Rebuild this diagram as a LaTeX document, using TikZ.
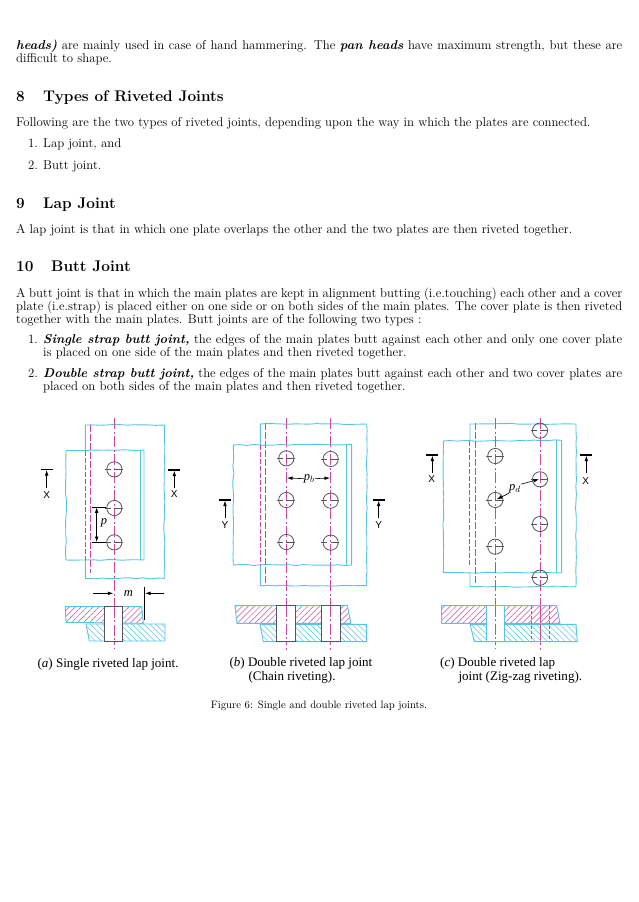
\documentclass[tikz,border=0pt]{standalone}
\usepackage{fontspec}
\newfontfamily\capfont{Liberation Serif}
\newfontfamily\markfont{Liberation Sans}
\usetikzlibrary{arrows.meta, decorations.pathmorphing, patterns.meta}
\definecolor{platecyan}{HTML}{58C4E4}
\definecolor{linepink}{HTML}{C94A9E}
\definecolor{rivetgrey}{HTML}{55555F}
\tikzset{
  para/.style={anchor=north west,inner sep=0pt,align=justify,text width=#1,
    font=\fontsize{12.78}{13}\selectfont,
    execute at begin node={\leavevmode\rule{0pt}{10pt}}},
  para/.default=606pt,
  heading/.style={anchor=base west,inner sep=0pt,font=\fontsize{15.4}{18}\selectfont\bfseries},
  caption/.style={anchor=base west,inner sep=0pt,font=\capfont\fontsize{13.05}{15}\selectfont},
  wavy/.style={decoration={random steps,segment length=7pt,amplitude=.5pt}},
  plate/.style={platecyan,line width=.9pt,line join=round},
  hiddenedge/.style={linepink,line width=.9pt,dash pattern=on 7pt off 2pt},
  centreline/.style={linepink,line width=.8pt,dash pattern=on 11pt off 2.5pt on 2pt off 2.5pt},
  rivetline/.style={rivetgrey,line width=.8pt},
  dimline/.style={black,line width=.5pt},
  dimarrow/.style={black,line width=.6pt,>={Latex[length=5.5pt,width=3.6pt]}},
  cutbar/.style={black,line width=1.2pt},
  pinkhatch/.style={plate,pattern={Lines[angle=45,distance=4.2pt,line width=.5pt]},pattern color=linepink},
  bluehatch/.style={plate,pattern={Lines[angle=-45,distance=4.2pt,line width=.5pt]},pattern color=platecyan},
  zoomed/.style={x=1pt/3,y=-1pt/3},
  marktext/.style={inner sep=0pt,font=\markfont\fontsize{10}{12}\selectfont},
  dimtext/.style={inner sep=0pt,font=\capfont\itshape\fontsize{12.5}{14}\selectfont}
}
\pgfmathsetseed{7}
\begin{document}
\begin{tikzpicture}[x=1pt,y=-1pt]
    \useasboundingbox (0,0) rectangle (638,902);
    % page text
    \node [para] (headsend) at (16,39.5) {{\bfseries\itshape heads)} are mainly used in case of hand hammering. The {\bfseries\itshape pan heads} have maximum strength, but these are difficult to shape.};
    \node [heading] (secA) at (16,101) {8};
    \node [heading] (secAt) at (43,101) {Types of Riveted Joints};
    \node [para] (types) at (16,116) {Following are the two types of riveted joints, depending upon the way in which the plates are connected.};
    \node [para=20pt] (typeA) at (28,137) {1.};
    \node [para=300pt] (typeAt) at (43,137) {Lap joint, and};
    \node [para=20pt] (typeB) at (28,159) {2.};
    \node [para=300pt] (typeBt) at (43,159) {Butt joint.};
    \node [heading] (secB) at (16,208) {9};
    \node [heading] (secBt) at (43,208) {Lap Joint};
    \node [para] (lap) at (16,223) {A lap joint is that in which one plate overlaps the other and the two plates are then riveted together.};
    \node [heading] (secC) at (16,271) {10};
    \node [heading] (secCt) at (51,271) {Butt Joint};
    \node [para] (butt) at (16,287) {A butt joint is that in which the main plates are kept in alignment butting (i.e.touching) each other and a cover plate (i.e.strap) is placed either on one side or on both sides of the main plates. The cover plate is then riveted together with the main plates. Butt joints are of the following two types :};
    \node [para=20pt] (buttA) at (28,333) {1.};
    \node [para=579pt] (buttAt) at (43,333) {{\bfseries\itshape Single strap butt joint,} the edges of the main plates butt against each other and only one cover plate is placed on one side of the main plates and then riveted together.};
    \node [para=20pt] (buttB) at (28,367) {2.};
    \node [para=579pt] (buttBt) at (43,367) {{\bfseries\itshape Double strap butt joint,} the edges of the main plates butt against each other and two cover plates are placed on both sides of the main plates and then riveted together.};
    \node [inner sep=0pt,font=\fontsize{10.72}{12}\selectfont] (figcap) at (319,706) {Figure 6: Single and double riveted lap joints.};

    % panel a
    \begin{scope}[shift={(30,410)},zoomed]
      \draw [plate] (166,122) -- (166,45) decorate[wavy] {-- (403,45) -- (403,505) -- (166,505)} -- (166,450);
      \draw [plate] (342,120) decorate[wavy] {-- (108,122) -- (108,450) -- (342,450)} -- cycle;
      \draw [plate] (330,122) -- (330,450);
      \draw [hiddenedge] (180,45) -- (180,488);
      \draw [hiddenedge,dash pattern=on 5pt off 2pt] (166,122) -- (166,450);
      \draw [centreline] (253,25) -- (253,715);
      \foreach \x/\y in {253/178,253/294,253/397} {
        \draw [rivetline] (\x,\y) circle (7.6pt);
        \draw [rivetline] ({\x-28},\y) -- ({\x-10},\y) (\x,\y) -- ({\x+25},\y);
      }
      % cut marks
      \foreach \x/\y in {50/178,433/180} {
        \draw [cutbar] ({\x-18},\y) -- ({\x+18},\y);
        \draw [dimarrow,->] (\x,{\y+55}) -- (\x,{\y+2});
      }
      \node [marktext] (xa) at (50,255) {X};
      \node [marktext] (xb) at (433,253) {X};
      % pitch
      \draw [dimline] (185,291) -- (228,291) (185,397) -- (228,397);
      \draw [dimarrow,<->] (200,292) -- (200,396);
      \node [dimtext,fill=white,inner ysep=1pt] (pa) at (222,339) {p};
      % margin
      \draw [dimarrow,->] (190,550) -- (250,550);
      \draw [dimarrow,->] (402,550) -- (345,550);
      \draw [dimline] (343,530) -- (343,630);
      \node [dimtext] (ma) at (295,552) {m};
      % section
      \draw [pinkhatch] (106,590) -- (335,590) -- (340,640) -- (108,637) -- cycle;
      \draw [bluehatch] (168,642) -- (405,642) -- (405,693) -- (178,693) -- cycle;
      \draw [rivetline,fill=white] (223,590) rectangle (278,693);
      \draw [centreline] (253,590) -- (253,693);
      \node [caption] (capa) at (22,772) {({\itshape a}) Single riveted lap joint.};
    \end{scope}

    % panel b
    \begin{scope}[shift={(215,410)},zoomed]
      \draw [plate] (136,105) -- (136,42) decorate[wavy] {-- (455,42) -- (455,527) -- (136,527)} -- (136,465);
      \draw [plate] (410,103) decorate[wavy] {-- (55,105) -- (55,465) -- (410,465)} -- cycle;
      \draw [plate] (395,103) -- (395,465);
      \draw [hiddenedge] (150,40) -- (150,525);
      \draw [hiddenedge,dash pattern=on 5pt off 2pt] (136,105) -- (136,465);
      \draw [centreline] (214,25) -- (214,720);
      \draw [centreline] (347,25) -- (347,720);
      \foreach \x/\y in {214/145,347/147,214/270,347/272,214/396,347/398} {
        \draw [rivetline] (\x,\y) circle (7.6pt);
        \draw [rivetline] ({\x-28},\y) -- ({\x-10},\y) (\x,\y) -- ({\x+25},\y);
      }
      % cut marks
      \foreach \x/\y in {30/270,491/270} {
        \draw [cutbar] ({\x-18},\y) -- ({\x+18},\y);
        \draw [dimarrow,->] (\x,{\y+55}) -- (\x,{\y+2});
      }
      \node [marktext] (ya) at (30,345) {Y};
      \node [marktext] (yb) at (491,345) {Y};
      % pitch
      \node [dimtext] (pb) at (283,206) {p$_b$};
      \draw [dimarrow,->] (pb.west) -- (216,204);
      \draw [dimarrow,->] (pb.east) -- (345,204);
      % section
      \draw [pinkhatch] (60,587) -- (397,587) -- (408,640) -- (66,640) -- cycle;
      \draw [bluehatch] (135,643) -- (455,643) -- (455,695) -- (145,695) -- cycle;
      \draw [rivetline,fill=white] (185,587) rectangle (241,695);
      \draw [rivetline,fill=white] (320,587) rectangle (376,695);
      \draw [centreline] (214,587) -- (214,695);
      \draw [centreline] (347,587) -- (347,695);
      \node [caption] (capb) at (43,768) {({\itshape b}) Double riveted lap joint};
      \node [caption] (capbb) at (100,812) {(Chain riveting).};
    \end{scope}

    % panel c
    \begin{scope}[shift={(415,410)},zoomed]
      \draw [plate] (165,93) -- (165,42) decorate[wavy] {-- (483,42) -- (483,530) -- (165,530)} -- (165,488);
      \draw [plate] (440,91) decorate[wavy] {-- (85,93) -- (85,488) -- (440,488)} -- cycle;
      \draw [plate] (423,91) -- (423,488);
      \draw [hiddenedge] (180,40) -- (180,525);
      \draw [hiddenedge,dash pattern=on 5pt off 2pt] (163,93) -- (163,465);
      \draw [centreline] (241,25) -- (241,718);
      \draw [centreline] (375,25) -- (375,725);
      \foreach \x/\y in {241/138,241/270,241/410,375/62,375/208,375/342,375/503} {
        \draw [rivetline] (\x,\y) circle (7.6pt);
        \draw [rivetline] ({\x-28},\y) -- ({\x-10},\y) (\x,\y) -- ({\x+25},\y);
      }
      % cut marks
      \foreach \x/\y in {52/135,514/135} {
        \draw [cutbar] ({\x-18},\y) -- ({\x+18},\y);
        \draw [dimarrow,->] (\x,{\y+55}) -- (\x,{\y+2});
      }
      \node [marktext] (xc) at (50,207) {X};
      \node [marktext] (xd) at (512,212) {X};
      % pitch
      \node [dimtext] (pd) at (300,236) {p$_d$};
      \draw [dimarrow,->] (pd.south west) -- (245,268);
      \draw [dimarrow,->] (pd.north east) -- (372,208);
      % section
      \draw [pinkhatch] (80,587) -- (425,587) -- (435,640) -- (80,640) -- cycle;
      \draw [bluehatch] (165,643) -- (483,643) -- (487,695) -- (178,695) -- cycle;
      \draw [plate,fill=white] (215,587) rectangle (268,695);
      \draw [hiddenedge,dash pattern=on 3pt off 2pt] (348,587) -- (348,695) (403,587) -- (403,695);
      \draw [centreline] (241,587) -- (241,695);
      \draw [centreline] (375,587) -- (375,695);
      \node [caption] (capc) at (75,768) {({\itshape c}) Double riveted lap};
      \node [caption] (capcc) at (130,812) {joint (Zig-zag riveting).};
    \end{scope}
\end{tikzpicture}
\end{document}
